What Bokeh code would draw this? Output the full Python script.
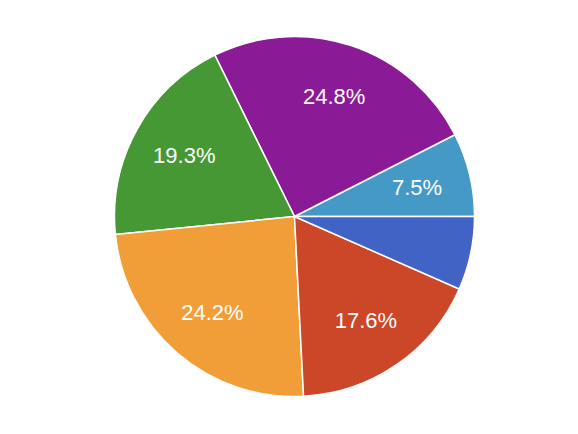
import numpy as np
from bokeh.plotting import figure
from bokeh.models import ColumnDataSource, Range1d
from bokeh.core.properties import value
from bokeh.embed import file_html
from bokeh.resources import INLINE

shares = [7.5, 24.8, 19.3, 24.2, 17.6, 6.6]
colors = ["#4499c6", "#8b1a96", "#459834", "#f29e38", "#cc4628", "#4263c6"]
labels = ["7.5%", "24.8%", "19.3%", "24.2%", "17.6%", ""]

W, H = 562, 418
cx, cy, R = 294, 202, 180

vals = np.array(shares, dtype=float)
frac = vals / vals.sum()
ends = np.cumsum(frac) * 2 * np.pi
starts = np.concatenate([[0.0], ends[:-1]])
mids = (starts + ends) / 2

src = ColumnDataSource(dict(start=starts, end=ends, color=colors))
lab = ColumnDataSource(dict(
    x=cx + 0.7 * R * np.cos(mids),
    y=cy + 0.7 * R * np.sin(mids),
    text=labels,
))

p = figure(width=W, height=H, output_backend="svg", toolbar_location=None,
           x_range=Range1d(0, W), y_range=Range1d(0, H),
           min_border=0, outline_line_color=None)
p.axis.visible = False
p.grid.visible = False
p.background_fill_color = "white"
p.border_fill_color = "white"

p.wedge(x=cx, y=cy, radius=R, start_angle="start", end_angle="end",
        fill_color="color", line_color="white", line_width=1.5, source=src)
p.text(x="x", y="y", text="text", source=lab, text_color="white",
       text_font=value("Liberation Sans"), text_font_size="22px",
       text_align="center", text_baseline="middle")

open("out.html", "w").write(file_html(p, INLINE))
